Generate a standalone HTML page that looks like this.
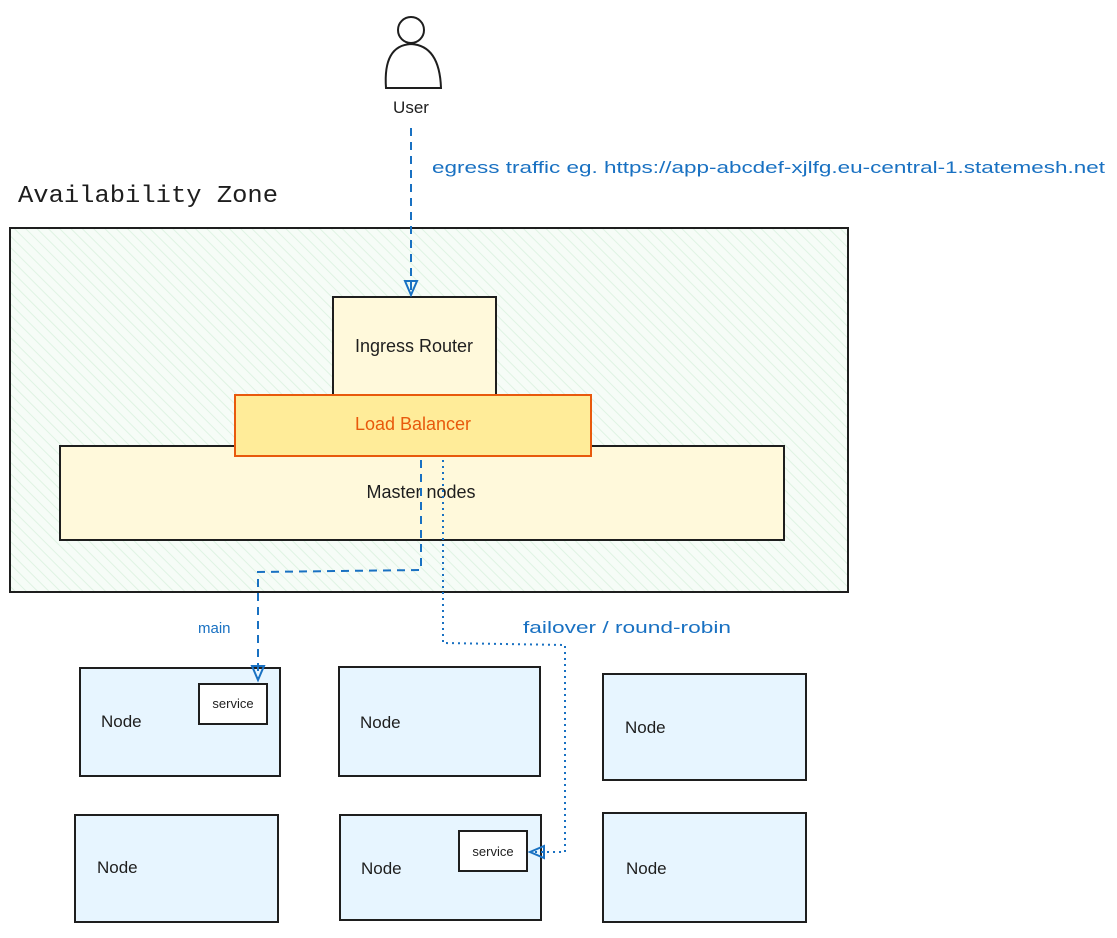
<!DOCTYPE html>
<html><head><meta charset="utf-8"><style>
body{margin:0;background:#fff;}
svg text{font-family:"Liberation Sans",sans-serif;}
</style></head><body>
<svg width="1117" height="933" viewBox="0 0 1117 933" xmlns="http://www.w3.org/2000/svg">
<defs>
<pattern id="h" width="8" height="8" patternUnits="userSpaceOnUse" patternTransform="rotate(-45)">
<rect width="8" height="8" fill="#f6fcf7"/><line x1="0" y1="0" x2="0" y2="8" stroke="#dff3e3" stroke-width="2"/>
</pattern>
</defs>
<!-- user -->
<circle cx="411" cy="30" r="13" fill="#fff" stroke="#1e1e1e" stroke-width="2"/>
<path d="M386 88 C384 60 392 45 411 44 C430 45 440 60 441 88 Z" fill="#fff" stroke="#1e1e1e" stroke-width="2"/>
<text x="411" y="113" font-size="17" text-anchor="middle" fill="#1e1e1e">User</text>
<text x="432" y="173" font-size="17" fill="#1971c2" textLength="673" lengthAdjust="spacingAndGlyphs">egress traffic eg. https://app-abcdef-xjlfg.eu-central-1.statemesh.net</text>
<text x="18" y="202" font-size="24" fill="#1e1e1e" style="font-family:'Liberation Mono',monospace" textLength="260" lengthAdjust="spacingAndGlyphs">Availability Zone</text>
<rect x="10" y="228" width="838" height="364" fill="url(#h)" stroke="#1e1e1e" stroke-width="2"/>
<rect x="333" y="297" width="163" height="100" fill="#fff9db" stroke="#1e1e1e" stroke-width="2"/>
<text x="414" y="352" font-size="18" text-anchor="middle" fill="#1e1e1e">Ingress Router</text>
<rect x="60" y="446" width="724" height="94" fill="#fff9db" stroke="#1e1e1e" stroke-width="2"/>
<text x="421" y="498" font-size="18" text-anchor="middle" fill="#1e1e1e">Master nodes</text>
<rect x="235" y="395" width="356" height="61" fill="#ffec99" stroke="#e8590c" stroke-width="2"/>
<text x="413" y="430" font-size="18" text-anchor="middle" fill="#e8590c">Load Balancer</text>
<g fill="#e7f5ff" stroke="#1e1e1e" stroke-width="2">
<rect x="80" y="668" width="200" height="108"/>
<rect x="339" y="667" width="201" height="109"/>
<rect x="603" y="674" width="203" height="106"/>
<rect x="75" y="815" width="203" height="107"/>
<rect x="340" y="815" width="201" height="105"/>
<rect x="603" y="813" width="203" height="109"/>
<rect x="199" y="684" width="68" height="40" fill="#fff"/>
<rect x="459" y="831" width="68" height="40" fill="#fff"/>
</g>
<g font-size="17" fill="#1e1e1e">
<text x="101" y="727">Node</text>
<text x="360" y="728">Node</text>
<text x="625" y="733">Node</text>
<text x="97" y="873">Node</text>
<text x="361" y="874">Node</text>
<text x="626" y="874">Node</text>
</g>
<text x="233" y="708" font-size="13" text-anchor="middle" fill="#1e1e1e">service</text>
<text x="493" y="856" font-size="13" text-anchor="middle" fill="#1e1e1e">service</text>
<!-- connectors on top -->
<line x1="411" y1="128" x2="411" y2="293" stroke="#1971c2" stroke-width="2" stroke-dasharray="8 6"/>
<path d="M405 281 L411 295 L417 281 Z" fill="none" stroke="#1971c2" stroke-width="2"/>
<path d="M421 460 L421 570 L258 572 L258 678" fill="none" stroke="#1971c2" stroke-width="2" stroke-dasharray="8 6"/>
<path d="M252 666 L258 680 L264 666 Z" fill="none" stroke="#1971c2" stroke-width="2"/>
<text x="198" y="633" font-size="15" fill="#1971c2">main</text>
<path d="M443 460 L443 643 L565 645 L565 852 L532 852" fill="none" stroke="#1971c2" stroke-width="2" stroke-dasharray="2 4"/>
<path d="M544 846 L530 852 L544 858 Z" fill="none" stroke="#1971c2" stroke-width="2"/>
<text x="523" y="633" font-size="17" fill="#1971c2" textLength="208" lengthAdjust="spacingAndGlyphs">failover / round-robin</text>
</svg>
</body></html>
